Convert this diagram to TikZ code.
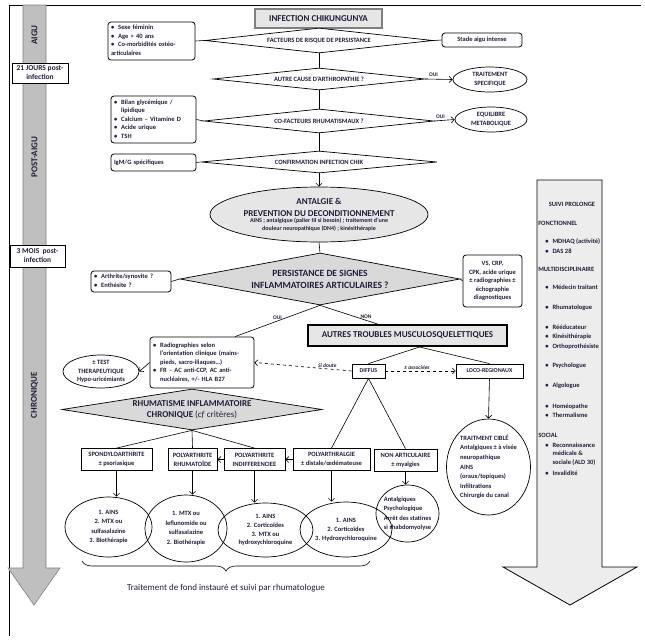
\documentclass[tikz,border=0pt]{standalone}
\usepackage{fontspec}
\setmainfont{Carlito}
\usetikzlibrary{shapes.geometric,arrows.meta,decorations.pathreplacing}

\definecolor{ink}{HTML}{1F1F3A}
\definecolor{boxgray}{HTML}{E6E6E6}
\definecolor{diagray}{HTML}{D9D9D9}
\definecolor{colgray}{HTML}{BFBFBF}
\definecolor{panelgray}{HTML}{EDEDED}

\newcommand{\puces}[1]{\begin{tabular}{@{}l@{\hspace{4pt}}l@{}}#1\end{tabular}}

\tikzset{
  txt/.style={font=\fontsize{6.5}{8.5}\selectfont\bfseries, text=ink},
  txtmid/.style={font=\fontsize{7.5}{9}\selectfont\bfseries, text=ink},
  txtbig/.style={font=\fontsize{9}{11.5}\selectfont\bfseries, text=ink},
  tag/.style={font=\fontsize{5.5}{6}\selectfont\bfseries, text=ink, inner sep=1pt},
  box/.style={draw, line width=0.8pt, fill=white, inner sep=1pt, txt, align=center},
  rbox/.style={box, rounded corners=3pt, inner xsep=3pt},
  oval/.style={ellipse, draw, line width=0.7pt, inner sep=0pt},
  losange/.style={diamond, draw, line width=0.7pt, fill=white, inner sep=0pt},
}

\begin{document}
\begin{tikzpicture}[x=1pt, y=-1pt, line width=0.6pt,
  >={Straight Barb[length=3pt,width=6pt]}]

\useasboundingbox (0,0) rectangle (645,640);

% ---------------------------
% cadre + frise du temps
% ---------------------------
\draw[line width=0.8pt] (9,636) -- (9,5) -- (641,5);
\draw[gray, fill=colgray] (23,5) -- (46,5) -- (46,568) -- (60,568)
  -- (34,605) -- (8,568) -- (23,568) -- cycle;

\node[txtbig, rotate=90] (aigu)  at (34.5,35)  {AIGU};
\node[txtbig, rotate=90] (post)  at (34.5,157) {POST-AIGU};
\node[txtbig, rotate=90] (chron) at (34.5,395) {CHRONIQUE};

\node[box, txtmid, minimum width=56pt, minimum height=20pt] (j21) at (40,73) {21 JOURS post-\\infection};
\node[box, txtmid, minimum width=55pt, minimum height=22pt] (m3) at (37.5,256) {3 MOIS \ post-\\infection};

% ---------------------------
% phase aigue
% ---------------------------
\node[box, txtbig, fill=boxgray, draw=gray, line width=1.2pt,
      minimum width=127pt, minimum height=19pt] (infect) at (318.5,18.5) {INFECTION CHIKUNGUNYA};

\node[losange, minimum width=228pt, minimum height=25pt,
      label={[txt]center:FACTEURS DE RISQUE DE PERSISTANCE}] (fact) at (319,40.5) {};
\node[rbox, align=left, text width=81pt, minimum height=38pt] (risk) at (151.5,41)
  {\puces{\textbullet & Sexe féminin\\ \textbullet & Age > 40 ans\\
          \textbullet & Co-morbidités ostéo-\\ \multicolumn{2}{@{}l@{}}{articulaires}}};
\node[rbox, minimum width=80pt, minimum height=14pt] (stade) at (482,40) {Stade aigu intense};
\draw (risk.east) -- (fact.west);
\draw (fact.east) -- (stade.west);

\node[losange, minimum width=212pt, minimum height=22pt,
      label={[txt]center:AUTRE CAUSE D'ARTHROPATHIE ?}] (autre) at (319,79) {};
\node[oval, minimum width=74pt, minimum height=25pt,
      label={[txt, align=center]center:TRAITEMENT\\SPECIFIQUE}] (spec) at (490,79.5) {};
\draw (fact.south) -- (autre.north);
\draw[->] (autre.east) -- (spec.west) node[tag, pos=0.3, above=1pt] (oui1) {OUI};

% ---------------------------
% phase post-aigue
% ---------------------------
\node[losange, minimum width=230pt, minimum height=24pt,
      label={[txt]center:CO-FACTEURS RHUMATISMAUX ?}] (cofact) at (319,121) {};
\node[rbox, align=left, text width=79pt, minimum height=47pt] (bilan) at (153.5,119.5)
  {\puces{\textbullet & Bilan glycémique /\\ & lipidique\\ \textbullet & Calcium – Vitamine D\\
          \textbullet & Acide urique\\ \textbullet & TSH}};
\node[oval, minimum width=72pt, minimum height=25pt,
      label={[txt, align=center]center:EQUILIBRE\\METABOLIQUE}] (equil) at (491,119.5) {};
\draw (autre.south) -- (cofact.north);
\draw (bilan.east) -- (cofact.west);
\draw[->] (cofact.east) -- (equil.west) node[tag, pos=0.3, above=1pt] (oui2) {OUI};

\node[losange, minimum width=236pt, minimum height=22pt,
      label={[txt]center:CONFIRMATION INFECTION CHIK}] (confirm) at (319,162) {};
\node[rbox, align=left, text width=79pt, minimum height=17pt] (igm) at (153.5,162.5) {IgM/G spécifiques};
\draw (cofact.south) -- (confirm.north);
\draw (igm.east) -- (confirm.west);

\node[oval, fill=boxgray, minimum width=218pt, minimum height=55pt,
      label={[txtbig, align=center, yshift=7pt]center:ANTALGIE \&\\PREVENTION DU DECONDITIONNEMENT},
      label={[tag, align=center, font=\fontsize{6}{8}\selectfont\bfseries, yshift=-10pt]center:AINS ; antalgique (palier III si besoin) ; traitement d'une\\douleur neuropathique (DN4) ; kinésithérapie}]
      (antalgie) at (319,214.5) {};
\draw[->] (confirm.south) -- (antalgie.north);

% ---------------------------
% phase chronique
% ---------------------------
\node[losange, fill=diagray, minimum width=280pt, minimum height=52pt,
      label={[txtbig, align=center, font=\fontsize{9.5}{12}\selectfont\bfseries]center:PERSISTANCE DE SIGNES\\INFLAMMATOIRES ARTICULAIRES ?}]
      (persist) at (320,279) {};
\node[rbox, align=left, text width=74pt, minimum height=21pt] (arth) at (131,281.5)
  {\puces{\textbullet & Arthrite/synovite ?\\ \textbullet & Enthésite ?}};
\node[rbox, inner xsep=1pt, minimum width=59pt, minimum height=52pt] (vs) at (492.5,281)
  {VS, CRP,\\CPK, acide urique\\± radiographies ±\\échographie\\diagnostiques};
\draw (antalgie.south) -- (persist.north);
\draw (arth.east) -- (persist.west);
\draw (persist.east) -- (vs.west);

\node[box, txtbig, fill=boxgray, line width=2pt, minimum width=199pt, minimum height=21pt]
  (autres) at (407.5,335.5) {AUTRES TROUBLES MUSCULOSQUELETTIQUES};
\node[rbox, align=left, text width=98pt, minimum height=51pt] (radio) at (202,362.5)
  {\puces{\textbullet & Radiographies selon\\ & l'orientation clinique (mains-\\ & pieds, sacro-iliaques…)\\
          \textbullet & FR – AC anti-CCP, AC anti-\\ & nucléaires, +/- HLA B27}};
\node[oval, minimum width=76pt, minimum height=33pt,
      label={[txt, align=center]center:± TEST\\THERAPEUTIQUE\\Hypo-uricémiants}] (test) at (101,371.5) {};
\draw (persist.south) -- ([xshift=33pt]radio.north) node[tag, midway, above] (oui3) {OUI};
\draw (persist.south) -- ([xshift=-30pt]autres.north) node[tag, pos=0.8, above] (non) {NON};
\draw[->] (radio.west) -- (test.east);

\node[box, font=\fontsize{6}{7}\selectfont\bfseries, minimum width=33pt, minimum height=14pt] (diffus) at (368.5,371) {DIFFUS};
\node[box, font=\fontsize{6}{7}\selectfont\bfseries, minimum width=67pt, minimum height=14pt] (loco) at (489.5,371) {LOCO-REGIONAUX};
\coordinate (pied) at ([xshift=12pt]autres.south);
\draw (pied) -- (diffus.north);
\draw (pied) -- (loco.north);
\draw[->, dashed] (diffus.west) -- (radio.east)
  node[tag, font=\fontsize{5.5}{6}\selectfont\bfseries\itshape, pos=0.25, above] (doute) {Si doute};
\draw[->, dashed] (diffus.east) -- (loco.west)
  node[tag, font=\fontsize{5.5}{6}\selectfont\bfseries\itshape, pos=0.45, above] (assoc) {± associées};

\node[oval, minimum width=84pt, minimum height=96pt,
      label={[txt, align=left, font=\fontsize{6.5}{9.6}\selectfont\bfseries]center:TRAITMENT CIBLÉ\\Antalgiques ± à visée\\neuropathique\\AINS\\(oraux/topiques)\\Infiltrations\\Chirurgie du canal}]
      (cible) at (488.5,467) {};
\draw[->] (loco.south) -- (cible.north);

\node[losange, fill=diagray, minimum width=260pt, minimum height=41pt,
      label={[txtbig, align=center]center:RHUMATISME INFLAMMATOIRE\\CHRONIQUE {\mdseries(\textit{cf} critères)}}]
      (rhum) at (192,409.5) {};

% formes cliniques
\node[box, font=\fontsize{6.5}{9}\selectfont\bfseries, minimum width=71pt, minimum height=22pt] (spondy) at (116.5,459.5) {SPONDYLOARTHRITE\\± psoriasique};
\node[box, font=\fontsize{6.5}{9}\selectfont\bfseries, minimum width=49pt, minimum height=22pt] (pr) at (192.5,459.5) {POLYARTHRITE\\RHUMATOÏDE};
\node[box, font=\fontsize{6.5}{9}\selectfont\bfseries, minimum width=61pt, minimum height=22pt] (pi) at (254.5,459.5) {POLYARTHRITE\\INDIFFERENCIEE};
\node[box, font=\fontsize{6.5}{9}\selectfont\bfseries, minimum width=77pt, minimum height=22pt] (palg) at (331.5,459.5) {POLYARTHRALGIE\\± distale/œdémateuse};
\node[box, font=\fontsize{6.5}{9}\selectfont\bfseries, minimum width=63pt, minimum height=22pt] (nonart) at (405.5,460) {NON ARTICULAIRE\\± myalgies};

\draw (rhum.south) -- (spondy.north);
\draw (rhum.south) -- (pr.north);
\draw (rhum.south) -- (pi.north);
\draw (diffus.south) -- (palg.north);
\draw (diffus.south) -- (nonart.north);
\draw[->] (palg.west) -- (pi.east);
\draw[->] (pi.west) -- (pr.east);

% traitements
\node[oval, minimum width=87pt, minimum height=60pt,
      label={[txt, align=center, font=\fontsize{6.5}{9.3}\selectfont\bfseries]center:1. AINS\\2. MTX ou\\sulfasalazine\\3. Biothérapie}] (fondspa) at (108.5,527) {};
\node[oval, minimum width=82pt, minimum height=67pt,
      label={[txt, align=center, font=\fontsize{6.5}{9.5}\selectfont\bfseries]center:1. MTX ou\\leflunomide ou\\sulfasalazine\\2. Biothérapie}] (fondpr) at (186,528.5) {};
\node[oval, minimum width=95pt, minimum height=54pt,
      label={[txt, align=center, font=\fontsize{6.5}{8.8}\selectfont\bfseries]center:1. AINS\\2. Corticoïdes\\3. MTX ou\\hydroxychloroquine}] (fondpi) at (265.5,530) {};
\node[oval, minimum width=92pt, minimum height=55pt,
      label={[txt, align=center, font=\fontsize{6.5}{9}\selectfont\bfseries]center:1. AINS\\2. Corticoïdes\\3. Hydroxychloroquine}] (fondpalg) at (346,529.5) {};
\node[oval, minimum width=63pt, minimum height=57pt,
      label={[txt, align=left, font=\fontsize{6.5}{9.5}\selectfont\bfseries]center:Antalgiques\\Psychologique\\Arrêt des statines\\si rhabdomyolyse}] (fondnon) at (407.5,513.5) {};

\draw[->] (spondy.south) -- (spondy.south |- fondspa.north);
\draw[->] (pr.south) -- (pr.south |- fondpr.north);
\draw[->] (pi.south) -- (pi.south |- fondpi.north);
\draw[->] (palg.south) -- (palg.south |- fondpalg.north);
\draw[->] (nonart.south) -- (nonart.south |- fondnon.north);

\coordinate (accR) at (370,561);
\coordinate (accL) at (82,561);
\draw[decorate, decoration={brace, amplitude=10pt}] (accR) -- (accL);
\node[font=\fontsize{9}{11}\selectfont, text=ink] (fond) at (226,588) {Traitement de fond instauré et suivi par rhumatologue};

% ---------------------------
% suivi prolonge
% ---------------------------
\draw[line width=0.8pt, fill=panelgray] (537,180) -- (602,180) -- (602,567) -- (637,567)
  -- (570,605) -- (503,567) -- (537,567) -- cycle;

\node[txt] (suivi) at (572,204) {SUIVI PROLONGE};
\foreach \yy/\rubrique in {223/FONCTIONNEL, 269/MULTIDISCIPLINAIRE, 435/SOCIAL}
  \node[txt, anchor=west, inner sep=0pt] (rub\yy) at (538,\yy) {\rubrique};
\foreach \yy/\quoi in {242/MDHAQ (activité), 251/DAS 28, 287/Médecin traitant, 308/Rhumatologue,
    327/Rééducateur, 337/Kinésithérapie, 347/Orthoprothésiste, 366/Psychologue,
    386/Algologue, 407/Homéopathe, 415/Thermalisme, 473/Invalidité}
  \node[txt, anchor=west, inner sep=0pt] (item\yy) at (545,\yy) {\textbullet\hspace{4pt}\quoi};
\node[txt, anchor=west, inner sep=0pt] (recon) at (545,454)
  {\puces{\textbullet & Reconnaissance\\ & médicale \&\\ & sociale (ALD 30)}};

\end{tikzpicture}
\end{document}
